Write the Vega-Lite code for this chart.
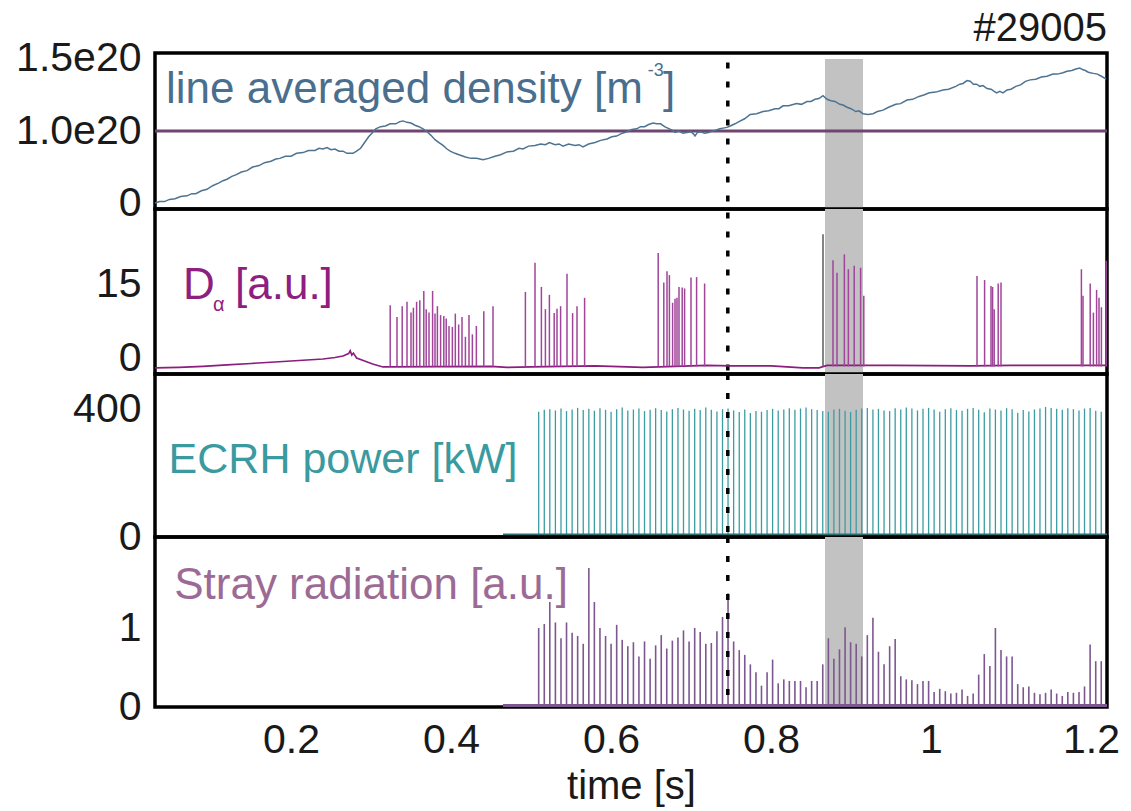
{
  "$schema": "https://vega.github.io/schema/vega-lite/v6.json",
  "padding": {"left": 13, "top": 9, "right": 8, "bottom": 0},
  "background": "white",
  "title": {"text": "#29005", "anchor": "end", "frame": "group", "fontSize": 40, "font": "Liberation Sans", "fontWeight": "normal", "color": "#1a1a1a", "offset": -13},
  "spacing": 0,
  "bounds": "flush",
  "config": {
    "view": {"stroke": "black", "strokeWidth": 3.5},
    "axis": {"grid": false, "ticks": false, "domain": false, "labelFont": "Liberation Sans", "labelFontSize": 41, "labelColor": "#1a1a1a", "titleFont": "Liberation Sans", "titleFontSize": 40, "titleFontWeight": "normal", "titleColor": "#1a1a1a", "labelFlush": false, "labelOverlap": false, "labelPadding": 14},
    "text": {"font": "Liberation Sans"}
  },
  "datasets": {
    "shade": [{"start": 0.8675, "end": 0.915}],
    "dash": [{"t": 0.746}],
    "flat": [{"t": 0.465}, {"t": 1.22}],
    "density": [
      {"t": 0.030, "v": 0.00}, {"t": 0.036, "v": 0.02}, {"t": 0.042, "v": 0.02}, {"t": 0.048, "v": 0.05}, {"t": 0.055, "v": 0.06},
      {"t": 0.062, "v": 0.09}, {"t": 0.070, "v": 0.10}, {"t": 0.076, "v": 0.13}, {"t": 0.081, "v": 0.13}, {"t": 0.088, "v": 0.17},
      {"t": 0.095, "v": 0.19}, {"t": 0.102, "v": 0.24}, {"t": 0.110, "v": 0.28}, {"t": 0.115, "v": 0.31}, {"t": 0.120, "v": 0.33},
      {"t": 0.126, "v": 0.37}, {"t": 0.131, "v": 0.39}, {"t": 0.138, "v": 0.43}, {"t": 0.145, "v": 0.45}, {"t": 0.152, "v": 0.50},
      {"t": 0.160, "v": 0.52}, {"t": 0.167, "v": 0.56}, {"t": 0.175, "v": 0.58}, {"t": 0.181, "v": 0.61}, {"t": 0.186, "v": 0.62},
      {"t": 0.193, "v": 0.65}, {"t": 0.200, "v": 0.65}, {"t": 0.207, "v": 0.69}, {"t": 0.215, "v": 0.70}, {"t": 0.222, "v": 0.73},
      {"t": 0.230, "v": 0.73}, {"t": 0.235, "v": 0.76}, {"t": 0.240, "v": 0.75}, {"t": 0.245, "v": 0.77}, {"t": 0.250, "v": 0.74},
      {"t": 0.255, "v": 0.75}, {"t": 0.260, "v": 0.72}, {"t": 0.265, "v": 0.72}, {"t": 0.270, "v": 0.69}, {"t": 0.2775, "v": 0.69},
      {"t": 0.282, "v": 0.72}, {"t": 0.287, "v": 0.76}, {"t": 0.292, "v": 0.84}, {"t": 0.297, "v": 0.92}, {"t": 0.302, "v": 0.98},
      {"t": 0.306, "v": 1.03}, {"t": 0.312, "v": 1.06}, {"t": 0.318, "v": 1.07}, {"t": 0.324, "v": 1.10}, {"t": 0.331, "v": 1.10},
      {"t": 0.336, "v": 1.13}, {"t": 0.340, "v": 1.14}, {"t": 0.345, "v": 1.12}, {"t": 0.350, "v": 1.11}, {"t": 0.355, "v": 1.08},
      {"t": 0.360, "v": 1.06}, {"t": 0.365, "v": 1.03}, {"t": 0.369, "v": 1.00}, {"t": 0.375, "v": 0.94}, {"t": 0.380, "v": 0.88},
      {"t": 0.385, "v": 0.84}, {"t": 0.390, "v": 0.80}, {"t": 0.395, "v": 0.75}, {"t": 0.399, "v": 0.72}, {"t": 0.405, "v": 0.69},
      {"t": 0.410, "v": 0.67}, {"t": 0.418, "v": 0.64}, {"t": 0.425, "v": 0.62}, {"t": 0.432, "v": 0.62}, {"t": 0.440, "v": 0.60},
      {"t": 0.447, "v": 0.62}, {"t": 0.455, "v": 0.65}, {"t": 0.462, "v": 0.67}, {"t": 0.470, "v": 0.71}, {"t": 0.478, "v": 0.72},
      {"t": 0.485, "v": 0.76}, {"t": 0.490, "v": 0.75}, {"t": 0.497, "v": 0.79}, {"t": 0.505, "v": 0.80}, {"t": 0.512, "v": 0.82},
      {"t": 0.518, "v": 0.81}, {"t": 0.523, "v": 0.84}, {"t": 0.530, "v": 0.81}, {"t": 0.535, "v": 0.82}, {"t": 0.540, "v": 0.79},
      {"t": 0.547, "v": 0.82}, {"t": 0.555, "v": 0.80}, {"t": 0.560, "v": 0.81}, {"t": 0.565, "v": 0.78}, {"t": 0.572, "v": 0.82},
      {"t": 0.580, "v": 0.84}, {"t": 0.587, "v": 0.87}, {"t": 0.595, "v": 0.89}, {"t": 0.601, "v": 0.92}, {"t": 0.607, "v": 0.93},
      {"t": 0.614, "v": 0.97}, {"t": 0.620, "v": 0.99}, {"t": 0.626, "v": 1.02}, {"t": 0.632, "v": 1.03}, {"t": 0.637, "v": 1.06},
      {"t": 0.642, "v": 1.06}, {"t": 0.647, "v": 1.09}, {"t": 0.6525, "v": 1.11}, {"t": 0.657, "v": 1.10}, {"t": 0.662, "v": 1.10},
      {"t": 0.667, "v": 1.06}, {"t": 0.673, "v": 1.03}, {"t": 0.677, "v": 1.01}, {"t": 0.680, "v": 0.98}, {"t": 0.685, "v": 1.00},
      {"t": 0.690, "v": 0.97}, {"t": 0.695, "v": 0.98}, {"t": 0.700, "v": 0.99}, {"t": 0.703, "v": 0.96}, {"t": 0.705, "v": 0.93},
      {"t": 0.708, "v": 0.98}, {"t": 0.712, "v": 0.99}, {"t": 0.717, "v": 0.97}, {"t": 0.722, "v": 0.98}, {"t": 0.727, "v": 1.00},
      {"t": 0.731, "v": 1.01}, {"t": 0.736, "v": 1.03}, {"t": 0.740, "v": 1.04}, {"t": 0.745, "v": 1.05}, {"t": 0.749, "v": 1.07},
      {"t": 0.755, "v": 1.10}, {"t": 0.760, "v": 1.13}, {"t": 0.767, "v": 1.17}, {"t": 0.774, "v": 1.23}, {"t": 0.782, "v": 1.24},
      {"t": 0.790, "v": 1.27}, {"t": 0.797, "v": 1.28}, {"t": 0.805, "v": 1.31}, {"t": 0.810, "v": 1.31}, {"t": 0.815, "v": 1.35},
      {"t": 0.822, "v": 1.35}, {"t": 0.832, "v": 1.38}, {"t": 0.838, "v": 1.37}, {"t": 0.845, "v": 1.41}, {"t": 0.850, "v": 1.41},
      {"t": 0.855, "v": 1.44}, {"t": 0.860, "v": 1.45}, {"t": 0.865, "v": 1.49}, {"t": 0.870, "v": 1.44}, {"t": 0.875, "v": 1.42},
      {"t": 0.880, "v": 1.41}, {"t": 0.886, "v": 1.37}, {"t": 0.890, "v": 1.36}, {"t": 0.895, "v": 1.33}, {"t": 0.900, "v": 1.31},
      {"t": 0.906, "v": 1.27}, {"t": 0.910, "v": 1.28}, {"t": 0.915, "v": 1.24}, {"t": 0.921, "v": 1.23}, {"t": 0.9275, "v": 1.24},
      {"t": 0.933, "v": 1.27}, {"t": 0.940, "v": 1.29}, {"t": 0.947, "v": 1.33}, {"t": 0.956, "v": 1.37}, {"t": 0.962, "v": 1.38},
      {"t": 0.970, "v": 1.43}, {"t": 0.977, "v": 1.44}, {"t": 0.985, "v": 1.48}, {"t": 0.991, "v": 1.50}, {"t": 0.998, "v": 1.53},
      {"t": 1.006, "v": 1.54}, {"t": 1.015, "v": 1.57}, {"t": 1.022, "v": 1.58}, {"t": 1.031, "v": 1.62}, {"t": 1.036, "v": 1.65},
      {"t": 1.040, "v": 1.66}, {"t": 1.045, "v": 1.70}, {"t": 1.049, "v": 1.69}, {"t": 1.053, "v": 1.65}, {"t": 1.057, "v": 1.65},
      {"t": 1.061, "v": 1.62}, {"t": 1.065, "v": 1.63}, {"t": 1.070, "v": 1.59}, {"t": 1.075, "v": 1.58}, {"t": 1.079, "v": 1.55},
      {"t": 1.082, "v": 1.53}, {"t": 1.086, "v": 1.55}, {"t": 1.090, "v": 1.53}, {"t": 1.095, "v": 1.57}, {"t": 1.100, "v": 1.58},
      {"t": 1.106, "v": 1.62}, {"t": 1.112, "v": 1.64}, {"t": 1.118, "v": 1.69}, {"t": 1.124, "v": 1.71}, {"t": 1.131, "v": 1.72},
      {"t": 1.138, "v": 1.75}, {"t": 1.145, "v": 1.76}, {"t": 1.1525, "v": 1.79}, {"t": 1.158, "v": 1.79}, {"t": 1.165, "v": 1.81},
      {"t": 1.170, "v": 1.83}, {"t": 1.176, "v": 1.84}, {"t": 1.181, "v": 1.86}, {"t": 1.186, "v": 1.875}, {"t": 1.190, "v": 1.85},
      {"t": 1.193, "v": 1.84}, {"t": 1.196, "v": 1.82}, {"t": 1.199, "v": 1.81}, {"t": 1.203, "v": 1.80}, {"t": 1.208, "v": 1.79},
      {"t": 1.213, "v": 1.76}, {"t": 1.219, "v": 1.72}
    ],
    "da_base": [
      {"t": 0.030, "v": -2.0}, {"t": 0.060, "v": -1.9}, {"t": 0.090, "v": -1.7}, {"t": 0.120, "v": -1.4}, {"t": 0.150, "v": -1.1},
      {"t": 0.180, "v": -0.8}, {"t": 0.210, "v": -0.5}, {"t": 0.240, "v": -0.2}, {"t": 0.255, "v": 0.1}, {"t": 0.265, "v": 0.4},
      {"t": 0.272, "v": 0.9}, {"t": 0.274, "v": 1.5}, {"t": 0.276, "v": 0.6}, {"t": 0.278, "v": 1.0}, {"t": 0.282, "v": 0.0},
      {"t": 0.292, "v": -0.6}, {"t": 0.302, "v": -1.2}, {"t": 0.315, "v": -1.8}, {"t": 0.450, "v": -1.7}, {"t": 0.470, "v": -1.9},
      {"t": 0.500, "v": -1.8}, {"t": 0.580, "v": -1.6}, {"t": 0.600, "v": -1.7}, {"t": 0.640, "v": -1.9}, {"t": 0.720, "v": -1.5},
      {"t": 0.750, "v": -1.6}, {"t": 0.800, "v": -1.6}, {"t": 0.840, "v": -2.0}, {"t": 0.860, "v": -2.0}, {"t": 0.870, "v": -1.5},
      {"t": 0.950, "v": -1.5}, {"t": 1.050, "v": -1.6}, {"t": 1.100, "v": -1.5}, {"t": 1.220, "v": -1.5}
    ],
    "da_spikes": [
      {"t": 0.324, "peak": 10.7}, {"t": 0.3325, "peak": 8.3}, {"t": 0.339, "peak": 10.5}, {"t": 0.345, "peak": 11.4}, {"t": 0.350, "peak": 9.2},
      {"t": 0.353, "peak": 10.2}, {"t": 0.357, "peak": 11.4}, {"t": 0.361, "peak": 11.7}, {"t": 0.366, "peak": 13.6}, {"t": 0.369, "peak": 9.9},
      {"t": 0.3725, "peak": 9.2}, {"t": 0.377, "peak": 13.6}, {"t": 0.380, "peak": 9.0}, {"t": 0.383, "peak": 10.5}, {"t": 0.387, "peak": 8.7},
      {"t": 0.391, "peak": 8.5}, {"t": 0.394, "peak": 8.0}, {"t": 0.3975, "peak": 6.5}, {"t": 0.4017, "peak": 6.3}, {"t": 0.4054, "peak": 9.0},
      {"t": 0.4096, "peak": 6.8}, {"t": 0.41375, "peak": 8.3}, {"t": 0.418, "peak": 4.3}, {"t": 0.4225, "peak": 8.7}, {"t": 0.4267, "peak": 4.8},
      {"t": 0.4317, "peak": 6.5}, {"t": 0.441, "peak": 9.5}, {"t": 0.4525, "peak": 10.5},
      {"t": 0.493, "peak": 13.4}, {"t": 0.505, "peak": 19.3}, {"t": 0.513, "peak": 14.4}, {"t": 0.518, "peak": 9.9}, {"t": 0.523, "peak": 12.8},
      {"t": 0.529, "peak": 9.1}, {"t": 0.5325, "peak": 10.0}, {"t": 0.537, "peak": 10.5}, {"t": 0.545, "peak": 17.1}, {"t": 0.552, "peak": 9.1},
      {"t": 0.5575, "peak": 10.5}, {"t": 0.567, "peak": 12.2},
      {"t": 0.659, "peak": 21.3}, {"t": 0.666, "peak": 15.3}, {"t": 0.670, "peak": 17.6}, {"t": 0.673, "peak": 16.8}, {"t": 0.677, "peak": 11.2},
      {"t": 0.680, "peak": 12.0}, {"t": 0.6825, "peak": 12.2}, {"t": 0.685, "peak": 14.4}, {"t": 0.689, "peak": 14.3}, {"t": 0.692, "peak": 14.1},
      {"t": 0.700, "peak": 16.3}, {"t": 0.707, "peak": 16.4}, {"t": 0.717, "peak": 15.1},
      {"t": 0.8775, "peak": 19.8}, {"t": 0.8825, "peak": 17.3}, {"t": 0.8917, "peak": 21.0}, {"t": 0.8967, "peak": 18.0}, {"t": 0.904, "peak": 18.7},
      {"t": 0.912, "peak": 18.3}, {"t": 0.916, "peak": 12.6},
      {"t": 1.0575, "peak": 16.6}, {"t": 1.067, "peak": 15.8}, {"t": 1.075, "peak": 14.6}, {"t": 1.077, "peak": 14.4}, {"t": 1.079, "peak": 9.9},
      {"t": 1.084, "peak": 15.1}, {"t": 1.0875, "peak": 15.3},
      {"t": 1.188, "peak": 18.0}, {"t": 1.190, "peak": 12.6}, {"t": 1.199, "peak": 15.1}, {"t": 1.203, "peak": 9.2}, {"t": 1.207, "peak": 13.8},
      {"t": 1.210, "peak": 12.2}, {"t": 1.213, "peak": 10.3}, {"t": 1.219, "peak": 19.7}
    ],
    "da_dark": [{"t": 0.865, "peak": 25.1}],
    "pulses": [
      {"t": 0.5096, "ecrh": 392, "stray": 1.00}, {"t": 0.5166, "ecrh": 398, "stray": 1.05}, {"t": 0.5235, "ecrh": 400, "stray": 1.33},
      {"t": 0.5305, "ecrh": 396, "stray": 1.07}, {"t": 0.5375, "ecrh": 402, "stray": 0.87}, {"t": 0.5444, "ecrh": 394, "stray": 1.07},
      {"t": 0.5514, "ecrh": 399, "stray": 0.94}, {"t": 0.5583, "ecrh": 404, "stray": 0.90}, {"t": 0.5653, "ecrh": 397, "stray": 0.80},
      {"t": 0.5723, "ecrh": 401, "stray": 1.76}, {"t": 0.5792, "ecrh": 395, "stray": 1.33}, {"t": 0.5862, "ecrh": 403, "stray": 1.00},
      {"t": 0.5932, "ecrh": 398, "stray": 0.90}, {"t": 0.6001, "ecrh": 392, "stray": 0.80}, {"t": 0.6071, "ecrh": 400, "stray": 1.04},
      {"t": 0.6140, "ecrh": 405, "stray": 0.85}, {"t": 0.6210, "ecrh": 396, "stray": 0.77}, {"t": 0.6280, "ecrh": 399, "stray": 0.82},
      {"t": 0.6349, "ecrh": 402, "stray": 0.64}, {"t": 0.6419, "ecrh": 394, "stray": 0.83}, {"t": 0.6489, "ecrh": 398, "stray": 0.61},
      {"t": 0.6558, "ecrh": 403, "stray": 0.78}, {"t": 0.6628, "ecrh": 397, "stray": 0.91}, {"t": 0.6697, "ecrh": 393, "stray": 0.74},
      {"t": 0.6767, "ecrh": 400, "stray": 0.84}, {"t": 0.6837, "ecrh": 404, "stray": 0.88}, {"t": 0.6906, "ecrh": 399, "stray": 0.97},
      {"t": 0.6976, "ecrh": 395, "stray": 0.83}, {"t": 0.7046, "ecrh": 401, "stray": 1.00}, {"t": 0.7115, "ecrh": 397, "stray": 0.95},
      {"t": 0.7185, "ecrh": 405, "stray": 0.80}, {"t": 0.7254, "ecrh": 398, "stray": 0.81}, {"t": 0.7324, "ecrh": 393, "stray": 0.96},
      {"t": 0.7394, "ecrh": 400, "stray": 1.14}, {"t": 0.7463, "ecrh": 402, "stray": 1.44}, {"t": 0.7533, "ecrh": 396, "stray": 0.83},
      {"t": 0.7603, "ecrh": 391, "stray": 0.72}, {"t": 0.7672, "ecrh": 399, "stray": 0.66}, {"t": 0.7742, "ecrh": 388, "stray": 0.54},
      {"t": 0.7812, "ecrh": 394, "stray": 0.44}, {"t": 0.7881, "ecrh": 392, "stray": 0.27}, {"t": 0.7951, "ecrh": 397, "stray": 0.44},
      {"t": 0.8020, "ecrh": 401, "stray": 0.60}, {"t": 0.8090, "ecrh": 396, "stray": 0.30}, {"t": 0.8160, "ecrh": 399, "stray": 0.35},
      {"t": 0.8229, "ecrh": 403, "stray": 0.33}, {"t": 0.8299, "ecrh": 398, "stray": 0.33}, {"t": 0.8369, "ecrh": 402, "stray": 0.33},
      {"t": 0.8438, "ecrh": 405, "stray": 0.25}, {"t": 0.8508, "ecrh": 400, "stray": 0.33}, {"t": 0.8577, "ecrh": 397, "stray": 0.33},
      {"t": 0.8647, "ecrh": 394, "stray": 0.54}, {"t": 0.8717, "ecrh": 392, "stray": 0.87}, {"t": 0.8786, "ecrh": 399, "stray": 0.61},
      {"t": 0.8856, "ecrh": 401, "stray": 0.73}, {"t": 0.8926, "ecrh": 395, "stray": 1.01}, {"t": 0.8995, "ecrh": 391, "stray": 0.82},
      {"t": 0.9065, "ecrh": 398, "stray": 0.80}, {"t": 0.9134, "ecrh": 402, "stray": 0.64}, {"t": 0.9204, "ecrh": 404, "stray": 0.91},
      {"t": 0.9274, "ecrh": 399, "stray": 1.13}, {"t": 0.9343, "ecrh": 401, "stray": 0.70}, {"t": 0.9413, "ecrh": 396, "stray": 0.54},
      {"t": 0.9483, "ecrh": 394, "stray": 0.77}, {"t": 0.9552, "ecrh": 403, "stray": 0.86}, {"t": 0.9622, "ecrh": 399, "stray": 0.39},
      {"t": 0.9691, "ecrh": 405, "stray": 0.35}, {"t": 0.9761, "ecrh": 402, "stray": 0.34}, {"t": 0.9831, "ecrh": 396, "stray": 0.29},
      {"t": 0.9900, "ecrh": 401, "stray": 0.33}, {"t": 0.9970, "ecrh": 404, "stray": 0.33}, {"t": 1.0039, "ecrh": 399, "stray": 0.19},
      {"t": 1.0109, "ecrh": 392, "stray": 0.23}, {"t": 1.0179, "ecrh": 400, "stray": 0.20}, {"t": 1.0248, "ecrh": 403, "stray": 0.17},
      {"t": 1.0318, "ecrh": 397, "stray": 0.18}, {"t": 1.0388, "ecrh": 395, "stray": 0.22}, {"t": 1.0457, "ecrh": 401, "stray": 0.14},
      {"t": 1.0527, "ecrh": 404, "stray": 0.17}, {"t": 1.0596, "ecrh": 398, "stray": 0.41}, {"t": 1.0666, "ecrh": 390, "stray": 0.67},
      {"t": 1.0736, "ecrh": 402, "stray": 0.52}, {"t": 1.0805, "ecrh": 399, "stray": 1.00}, {"t": 1.0875, "ecrh": 396, "stray": 0.72},
      {"t": 1.0945, "ecrh": 403, "stray": 0.64}, {"t": 1.1014, "ecrh": 400, "stray": 0.64}, {"t": 1.1084, "ecrh": 389, "stray": 0.29},
      {"t": 1.1153, "ecrh": 397, "stray": 0.25}, {"t": 1.1223, "ecrh": 393, "stray": 0.26}, {"t": 1.1293, "ecrh": 399, "stray": 0.18},
      {"t": 1.1362, "ecrh": 402, "stray": 0.16}, {"t": 1.1432, "ecrh": 407, "stray": 0.18}, {"t": 1.1502, "ecrh": 404, "stray": 0.22},
      {"t": 1.1571, "ecrh": 401, "stray": 0.17}, {"t": 1.1641, "ecrh": 398, "stray": 0.14}, {"t": 1.1710, "ecrh": 403, "stray": 0.19},
      {"t": 1.1780, "ecrh": 400, "stray": 0.18}, {"t": 1.1850, "ecrh": 396, "stray": 0.19}, {"t": 1.1919, "ecrh": 402, "stray": 0.26},
      {"t": 1.1989, "ecrh": 404, "stray": 0.79}, {"t": 1.2059, "ecrh": 395, "stray": 0.58}, {"t": 1.2128, "ecrh": 392, "stray": 0.58}
    ]
  },
  "vconcat": [
    {
      "width": 952, "height": 156,
      "layer": [
        {"data": {"name": "shade"}, "mark": {"type": "rect", "color": "#c2c2c2"},
         "encoding": {
           "x": {"field": "start", "type": "quantitative", "scale": {"domain": [0.03, 1.22], "nice": false, "zero": false}, "axis": null},
           "x2": {"field": "end"},
           "y": {"datum": 2.0, "type": "quantitative", "scale": {"domain": [-0.083, 2.083], "nice": false, "zero": false},
                 "axis": {"values": [0, 1, 2], "title": null, "labelExpr": "datum.value == 2 ? '1.5e20' : datum.value == 1 ? '1.0e20' : '0'"}},
           "y2": {"datum": -0.083}}},
        {"data": {"name": "dash"}, "mark": {"type": "rule", "color": "black", "strokeWidth": 3.5, "strokeDash": [6, 13]},
         "encoding": {
           "x": {"field": "t", "type": "quantitative", "scale": {"domain": [0.03, 1.22], "nice": false, "zero": false}, "axis": null},
           "y": {"datum": 1.95, "type": "quantitative", "axis": {"values": [0, 1, 2], "title": null, "labelExpr": "datum.value == 2 ? '1.5e20' : datum.value == 1 ? '1.0e20' : '0'"}},
           "y2": {"datum": -0.083}}},
        {"data": {"name": "dash"}, "mark": {"type": "rule", "color": "#6e4470", "strokeWidth": 3},
         "encoding": {"y": {"datum": 1, "type": "quantitative", "axis": {"values": [0, 1, 2], "title": null, "labelExpr": "datum.value == 2 ? '1.5e20' : datum.value == 1 ? '1.0e20' : '0'"}}}},
        {"data": {"name": "density"}, "mark": {"type": "line", "color": "#4d7391", "strokeWidth": 1.5},
         "encoding": {
           "x": {"field": "t", "type": "quantitative", "scale": {"domain": [0.03, 1.22], "nice": false, "zero": false}, "axis": null},
           "y": {"field": "v", "type": "quantitative", "scale": {"domain": [-0.083, 2.083], "nice": false, "zero": false},
                 "axis": {"values": [0, 1, 2], "title": null, "labelExpr": "datum.value == 2 ? '1.5e20' : datum.value == 1 ? '1.0e20' : '0'"}}}},
        {"data": {"name": "dash"}, "mark": {"type": "text", "align": "left", "baseline": "alphabetic", "fontSize": 44, "color": "#4a6f8e"},
         "encoding": {"x": {"datum": 0.04375, "type": "quantitative", "axis": null},
                      "y": {"datum": 1.39, "type": "quantitative", "axis": {"values": [0, 1, 2], "title": null, "labelExpr": "datum.value == 2 ? '1.5e20' : datum.value == 1 ? '1.0e20' : '0'"}},
                      "text": {"value": "line averaged density [m"}}},
        {"data": {"name": "dash"}, "mark": {"type": "text", "align": "left", "baseline": "alphabetic", "fontSize": 18, "color": "#4a6f8e"},
         "encoding": {"x": {"datum": 0.646, "type": "quantitative", "axis": null},
                      "y": {"datum": 1.76, "type": "quantitative", "axis": {"values": [0, 1, 2], "title": null, "labelExpr": "datum.value == 2 ? '1.5e20' : datum.value == 1 ? '1.0e20' : '0'"}},
                      "text": {"value": "-3"}}},
        {"data": {"name": "dash"}, "mark": {"type": "text", "align": "left", "baseline": "alphabetic", "fontSize": 44, "color": "#4a6f8e"},
         "encoding": {"x": {"datum": 0.665, "type": "quantitative", "axis": null},
                      "y": {"datum": 1.39, "type": "quantitative", "axis": {"values": [0, 1, 2], "title": null, "labelExpr": "datum.value == 2 ? '1.5e20' : datum.value == 1 ? '1.0e20' : '0'"}},
                      "text": {"value": "]"}}}
      ]
    },
    {
      "width": 952, "height": 165,
      "layer": [
        {"data": {"name": "shade"}, "mark": {"type": "rect", "color": "#c2c2c2"},
         "encoding": {
           "x": {"field": "start", "type": "quantitative", "scale": {"domain": [0.03, 1.22], "nice": false, "zero": false}, "axis": null},
           "x2": {"field": "end"},
           "y": {"datum": 30.2, "type": "quantitative", "scale": {"domain": [-3.24, 30.2], "nice": false, "zero": false}, "axis": {"values": [0, 15], "title": null}},
           "y2": {"datum": -3.24}}},
        {"data": {"name": "dash"}, "mark": {"type": "rule", "color": "black", "strokeWidth": 3.5, "strokeDash": [6, 13]},
         "encoding": {
           "x": {"field": "t", "type": "quantitative", "scale": {"domain": [0.03, 1.22], "nice": false, "zero": false}, "axis": null},
           "y": {"datum": 29.5, "type": "quantitative", "axis": {"values": [0, 15], "title": null}}, "y2": {"datum": -3.24}}},
        {"data": {"name": "da_base"}, "mark": {"type": "line", "color": "#8a1d7d", "strokeWidth": 1.6},
         "encoding": {
           "x": {"field": "t", "type": "quantitative", "scale": {"domain": [0.03, 1.22], "nice": false, "zero": false}, "axis": null},
           "y": {"field": "v", "type": "quantitative", "scale": {"domain": [-3.24, 30.2], "nice": false, "zero": false}, "axis": {"values": [0, 15], "title": null}}}},
        {"data": {"name": "da_spikes"}, "mark": {"type": "rule", "color": "#a0459a", "strokeWidth": 1.5},
         "encoding": {
           "x": {"field": "t", "type": "quantitative", "scale": {"domain": [0.03, 1.22], "nice": false, "zero": false}, "axis": null},
           "y": {"field": "peak", "type": "quantitative", "axis": {"values": [0, 15], "title": null}}, "y2": {"datum": -1.7}}},
        {"data": {"name": "da_dark"}, "mark": {"type": "rule", "color": "#5a5a5a", "strokeWidth": 1.5},
         "encoding": {
           "x": {"field": "t", "type": "quantitative", "scale": {"domain": [0.03, 1.22], "nice": false, "zero": false}, "axis": null},
           "y": {"field": "peak", "type": "quantitative", "axis": {"values": [0, 15], "title": null}}, "y2": {"datum": -1.7}}},
        {"data": {"name": "dash"}, "mark": {"type": "text", "align": "left", "baseline": "alphabetic", "fontSize": 44, "color": "#8e1f80"},
         "encoding": {"x": {"datum": 0.065, "type": "quantitative", "axis": null}, "y": {"datum": 12.0, "type": "quantitative", "axis": {"values": [0, 15], "title": null}}, "text": {"value": "D"}}},
        {"data": {"name": "dash"}, "mark": {"type": "text", "align": "left", "baseline": "alphabetic", "fontSize": 20, "color": "#8e1f80"},
         "encoding": {"x": {"datum": 0.1025, "type": "quantitative", "axis": null}, "y": {"datum": 9.5, "type": "quantitative", "axis": {"values": [0, 15], "title": null}}, "text": {"value": "α"}}},
        {"data": {"name": "dash"}, "mark": {"type": "text", "align": "left", "baseline": "alphabetic", "fontSize": 44, "color": "#8e1f80"},
         "encoding": {"x": {"datum": 0.13, "type": "quantitative", "axis": null}, "y": {"datum": 12.0, "type": "quantitative", "axis": {"values": [0, 15], "title": null}}, "text": {"value": "[a.u.]"}}}
      ]
    },
    {
      "width": 952, "height": 163,
      "layer": [
        {"data": {"name": "shade"}, "mark": {"type": "rect", "color": "#c2c2c2"},
         "encoding": {
           "x": {"field": "start", "type": "quantitative", "scale": {"domain": [0.03, 1.22], "nice": false, "zero": false}, "axis": null},
           "x2": {"field": "end"},
           "y": {"datum": 510, "type": "quantitative", "scale": {"domain": [0, 510], "nice": false, "zero": false}, "axis": {"values": [0, 400], "title": null}},
           "y2": {"datum": 0}}},
        {"data": {"name": "pulses"}, "mark": {"type": "rule", "color": "#3b9da2", "strokeWidth": 1.3},
         "encoding": {
           "x": {"field": "t", "type": "quantitative", "scale": {"domain": [0.03, 1.22], "nice": false, "zero": false}, "axis": null},
           "y": {"field": "ecrh", "type": "quantitative", "scale": {"domain": [0, 510], "nice": false, "zero": false}, "axis": {"values": [0, 400], "title": null}},
           "y2": {"datum": 8}}},
        {"data": {"name": "flat"}, "mark": {"type": "line", "color": "#2f6f73", "strokeWidth": 2},
         "encoding": {
           "x": {"field": "t", "type": "quantitative", "scale": {"domain": [0.03, 1.22], "nice": false, "zero": false}, "axis": null},
           "y": {"datum": 8, "type": "quantitative", "axis": {"values": [0, 400], "title": null}}}},
        {"data": {"name": "dash"}, "mark": {"type": "rule", "color": "black", "strokeWidth": 3.5, "strokeDash": [6, 13]},
         "encoding": {
           "x": {"field": "t", "type": "quantitative", "scale": {"domain": [0.03, 1.22], "nice": false, "zero": false}, "axis": null},
           "y": {"datum": 510, "type": "quantitative", "axis": {"values": [0, 400], "title": null}}, "y2": {"datum": 0}}},
        {"data": {"name": "dash"}, "mark": {"type": "text", "align": "left", "baseline": "alphabetic", "fontSize": 43, "color": "#3a9aa0"},
         "encoding": {"x": {"datum": 0.047, "type": "quantitative", "axis": null}, "y": {"datum": 200, "type": "quantitative", "axis": {"values": [0, 400], "title": null}}, "text": {"value": "ECRH power [kW]"}}}
      ]
    },
    {
      "width": 952, "height": 170,
      "layer": [
        {"data": {"name": "shade"}, "mark": {"type": "rect", "color": "#c2c2c2"},
         "encoding": {
           "x": {"field": "start", "type": "quantitative", "scale": {"domain": [0.03, 1.22], "nice": false, "zero": false},
                 "axis": {"values": [0.2, 0.4, 0.6, 0.8, 1, 1.2], "format": "~g", "title": "time [s]", "labelPadding": 13, "titlePadding": 6}},
           "x2": {"field": "end"},
           "y": {"datum": 2.152, "type": "quantitative", "scale": {"domain": [0, 2.152], "nice": false, "zero": false}, "axis": {"values": [0, 1], "title": null}},
           "y2": {"datum": 0}}},
        {"data": {"name": "pulses"}, "mark": {"type": "rule", "color": "#7d5790", "strokeWidth": 1.6},
         "encoding": {
           "x": {"field": "t", "type": "quantitative", "scale": {"domain": [0.03, 1.22], "nice": false, "zero": false},
                 "axis": {"values": [0.2, 0.4, 0.6, 0.8, 1, 1.2], "format": "~g", "title": "time [s]", "labelPadding": 13, "titlePadding": 6}},
           "y": {"field": "stray", "type": "quantitative", "scale": {"domain": [0, 2.152], "nice": false, "zero": false}, "axis": {"values": [0, 1], "title": null}},
           "y2": {"datum": 0.02}}},
        {"data": {"name": "flat"}, "mark": {"type": "line", "color": "#7d5790", "strokeWidth": 3},
         "encoding": {
           "x": {"field": "t", "type": "quantitative", "axis": {"values": [0.2, 0.4, 0.6, 0.8, 1, 1.2], "format": "~g", "title": "time [s]", "labelPadding": 13, "titlePadding": 6}},
           "y": {"datum": 0.02, "type": "quantitative", "axis": {"values": [0, 1], "title": null}}}},
        {"data": {"name": "dash"}, "mark": {"type": "rule", "color": "black", "strokeWidth": 3.5, "strokeDash": [6, 13]},
         "encoding": {
           "x": {"field": "t", "type": "quantitative", "axis": {"values": [0.2, 0.4, 0.6, 0.8, 1, 1.2], "format": "~g", "title": "time [s]", "labelPadding": 13, "titlePadding": 6}},
           "y": {"datum": 2.152, "type": "quantitative", "axis": {"values": [0, 1], "title": null}}, "y2": {"datum": 0}}},
        {"data": {"name": "dash"}, "mark": {"type": "text", "align": "left", "baseline": "alphabetic", "fontSize": 44, "color": "#9c6b95"},
         "encoding": {"x": {"datum": 0.054, "type": "quantitative", "axis": {"values": [0.2, 0.4, 0.6, 0.8, 1, 1.2], "format": "~g", "title": "time [s]", "labelPadding": 13, "titlePadding": 6}},
                      "y": {"datum": 1.37, "type": "quantitative", "axis": {"values": [0, 1], "title": null}}, "text": {"value": "Stray radiation [a.u.]"}}}
      ]
    }
  ]
}
